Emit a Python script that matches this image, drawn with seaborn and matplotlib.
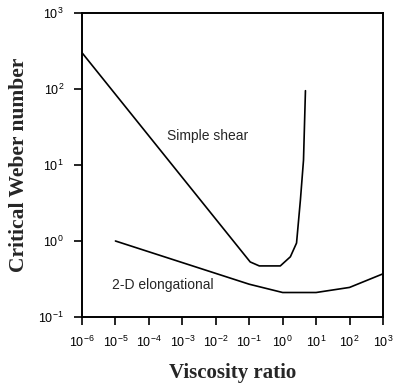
import numpy as np
import pandas as pd
import matplotlib
matplotlib.use("Agg")
import matplotlib.pyplot as plt
import seaborn as sns

# Data
shear_x = [1e-6, 0.107, 0.2, 0.85, 1.7, 2.6, 3.4, 4.2, 4.8]
shear_y = [300, 0.53, 0.47, 0.47, 0.62, 0.94, 3.5, 11.6, 95]
elong_x = [1e-5, 0.1, 1.0, 10, 100, 1000]
elong_y = [1.0, 0.27, 0.21, 0.21, 0.245, 0.37]

xticks = [10.0 ** k for k in range(-6, 4)]
yticks = [10.0 ** k for k in range(-1, 4)]

sns.set_style("ticks")
plt.rcParams['font.family'] = ['Liberation Sans', 'DejaVu Sans']
plt.rcParams['mathtext.fontset'] = 'custom'
plt.rcParams['mathtext.rm'] = 'Liberation Sans'
plt.rcParams['mathtext.it'] = 'Liberation Sans'

fig = plt.figure(figsize=(3.95, 3.88), dpi=100)
ax = fig.add_axes([0.2076, 0.183, 0.762, 0.7835])

df_s = pd.DataFrame({"x": shear_x, "y": shear_y})
df_e = pd.DataFrame({"x": elong_x, "y": elong_y})
sns.lineplot(data=df_s, x="x", y="y", ax=ax, color="black", lw=1.2, sort=False)
sns.lineplot(data=df_e, x="x", y="y", ax=ax, color="black", lw=1.2, sort=False)

ax.set_xscale("log")
ax.set_yscale("log")
ax.set_xlim(1e-6, 1e3)
ax.set_ylim(1e-1, 1e3)
ax.set_xticks(xticks)
ax.set_yticks(yticks)
ax.set_xticklabels([r"$10^{%d}$" % k for k in range(-6, 4)])
ax.set_yticklabels([r"$10^{%d}$" % k for k in range(-1, 4)])
ax.minorticks_off()
ax.tick_params(axis="both", which="major", direction="out", length=6, width=1.2,
               labelsize=9, colors="black")
ax.tick_params(axis="x", pad=7)
ax.tick_params(axis="y", pad=7)
for s in ax.spines.values():
    s.set_visible(True)
    s.set_linewidth(1.4)
    s.set_color("black")

ax.set_xlabel("Viscosity ratio", fontsize=15, fontweight="bold",
              family=["Liberation Serif", "DejaVu Serif"], labelpad=9)
ax.set_ylabel("Critical Weber number", fontsize=15.5, fontweight="bold",
              family=["Liberation Serif", "DejaVu Serif"], labelpad=7)

ax.text(0.0059, 24, "Simple shear", fontsize=10, ha="center", va="center")
ax.text(2.6e-4, 0.26, "2-D elongational", fontsize=10, ha="center", va="center")

fig.savefig("out.png", dpi=100)
